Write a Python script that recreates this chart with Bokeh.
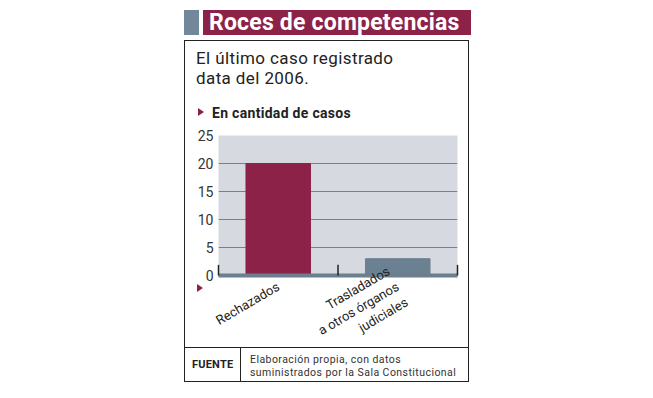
from bokeh.plotting import figure
from bokeh.models import FactorRange, Range1d, ColumnDataSource, FixedTicker, Div
from bokeh.layouts import column, row
from bokeh.embed import file_html
from bokeh.resources import INLINE

# ---- data ----
categories = ["Rechazados", "Trasladados\na otros órganos\njudiciales"]
values = [20, 3]
bar_colors = ["#8d2249", "#6b8091"]
y_ticks = [0, 5, 10, 15, 20, 25]

title_text = "Roces de competencias"
subtitle_lines = ["El último caso registrado", "data del 2006."]
unit_text = "En cantidad de casos"
source_label = "FUENTE"
source_lines = ["Elaboración propia, con datos", "suministrados por la Sala Constitucional"]

MAROON = "#8d2249"
SLATE = "#6b7f90"
FONT = "Roboto"
INK = "#222222"

# ---- layout geometry (page pixels) ----
W, H = 637, 382
TOP_H = 127                  # header area height
FIG_X0, FIG_X1 = 185, 468
FIG_H = H - TOP_H
BOX_L, BOX_R = 184, 469      # outer frame border
FL, FT, FW, FH = 218, 135, 239, 140   # plot frame


def txt(x, baseline, lines, fs, weight="normal", color=INK, ls=0, lh=None):
    """A text block; `baseline` is the first line's baseline."""
    lh = lh if lh is not None else 1.2 * fs
    top = baseline - ((lh - 1.172 * fs) / 2 + 0.928 * fs)
    if isinstance(lines, str):
        lines = [lines]
    body = "<br>".join(lines)
    return (f'<div style="position:absolute;left:{x}px;top:{top:.1f}px;z-index:10;'
            f'font-family:{FONT};font-size:{fs}px;line-height:{lh:.1f}px;'
            f'letter-spacing:{ls}px;font-weight:{weight};color:{color};'
            f'white-space:nowrap;">{body}</div>')


def blk(x, y, w, h, css):
    return (f'<div style="position:absolute;left:{x}px;top:{y}px;width:{w}px;'
            f'height:{h}px;box-sizing:border-box;z-index:10;{css}"></div>')


def tri(x, y):
    return (f'<div style="position:absolute;left:{x}px;top:{y}px;width:0;height:0;'
            f'border-top:4px solid transparent;border-bottom:4px solid transparent;'
            f'border-left:6px solid {MAROON};z-index:10;"></div>')


def wrap(w, h, inner):
    return (f'<div style="position:relative;width:{w}px;height:{h}px;overflow:visible;">'
            + inner + '</div>')


# ---- header ----
top_html = (
    blk(184, 10, 15, 25, "background:#72879a;")
    + blk(203, 10, 268, 25, f"background:{MAROON};")
    + txt(209, 31, title_text, 23, "bold", "white", 0.2)
    + blk(BOX_L, 40, BOX_R - BOX_L, TOP_H - 40, f"border:1px solid {INK};border-bottom:none;")
    + txt(196, 64, subtitle_lines, 17, "normal", INK, 0.4, 20)
    + tri(198, 108)
    + txt(212, 118, unit_text, 14, "bold", INK, 0.3)
)
top_div = Div(text=wrap(W, TOP_H, top_html), width=W, height=TOP_H, margin=0)

# ---- left strip: frame border, footer and the marker below the chart ----
y0 = TOP_H
left_html = (
    blk(BOX_L, 0, 1, FIG_H, f"background:{INK};")
    + blk(BOX_L, FIG_H - 1, BOX_R - BOX_L, 1, f"background:{INK};")
    + blk(BOX_L, 347 - y0, BOX_R - BOX_L, 1, f"background:{INK};")
    + blk(240, 347 - y0, 1, H - 347, f"background:{INK};")
    + tri(197, 284 - y0)
    + txt(192, 368 - y0, source_label, 11, "bold", INK, 0.2, 13)
    + txt(250, 364 - y0, source_lines, 10.5, "normal", "#333333", 0.45, 12.5)
)
left_div = Div(text=wrap(FIG_X0, FIG_H, left_html), width=FIG_X0, height=FIG_H, margin=0)
right_w = W - FIG_X1
right_div = Div(text=wrap(right_w, FIG_H, blk(0, 0, 1, FIG_H, f"background:{INK};")),
                width=right_w, height=FIG_H, margin=0)

# ---- chart ----
fig_w = FIG_X1 - FIG_X0
p = figure(width=fig_w, height=FIG_H,
           x_range=FactorRange(*categories, range_padding=0),
           y_range=Range1d(0, y_ticks[-1]),
           output_backend="svg", toolbar_location=None,
           min_border_left=FL - FIG_X0, min_border_right=fig_w - (FL - FIG_X0) - FW,
           min_border_top=FT - TOP_H, min_border_bottom=FIG_H - (FT - TOP_H) - FH,
           margin=0)
p.outline_line_color = None
p.background_fill_color = "#d6d9df"
p.border_fill_alpha = 0

src = ColumnDataSource(dict(x=categories, top=values, color=bar_colors))
p.vbar(x="x", top="top", width=0.54, color="color", source=src)

# category separator ticks
sep = [(c, -0.5) for c in categories] + [(categories[-1], 0.5)]
seg = p.segment(x0=sep, y0=[0] * len(sep), x1=sep, y1=[1.9] * len(sep),
                line_color=INK, line_width=1.5)
seg.level = "overlay"

p.yaxis.ticker = FixedTicker(ticks=y_ticks)
p.yaxis.axis_line_color = None
p.yaxis.major_tick_line_color = None
p.yaxis.major_tick_out = 0
p.yaxis.minor_tick_line_color = None
p.yaxis.major_label_text_font = FONT
p.yaxis.major_label_text_font_size = "14px"
p.yaxis.major_label_text_color = "#333333"
p.yaxis.major_label_standoff = 5

p.xaxis.axis_line_color = SLATE
p.xaxis.axis_line_width = 4
p.xaxis.major_tick_line_color = None
p.xaxis.major_tick_out = 0
p.xaxis.major_label_orientation = 0.53
p.xaxis.major_label_text_font = FONT
p.xaxis.major_label_text_font_size = "13px"
p.xaxis.major_label_text_color = INK
p.xaxis.major_label_standoff = 10

p.xgrid.grid_line_color = None
p.ygrid.ticker = FixedTicker(ticks=y_ticks)
p.ygrid.grid_line_color = "#7c7f85"
p.ygrid.grid_line_width = 1.2

layout = column(top_div, row(left_div, p, right_div, spacing=0), spacing=0)

open("out.html", "w").write(file_html(layout, INLINE))
